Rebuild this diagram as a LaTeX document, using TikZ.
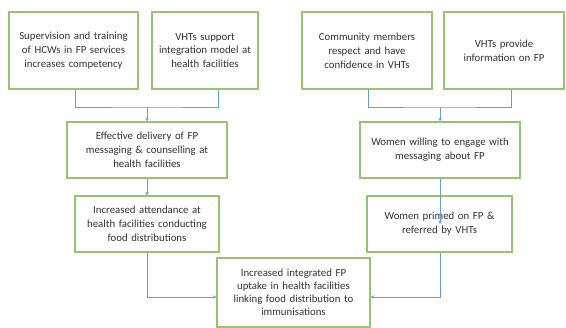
\documentclass[tikz,border=0pt]{standalone}
\usepackage{fontspec}
\setmainfont{Carlito}
\usetikzlibrary{arrows.meta}
\definecolor{boxgreen}{RGB}{150,196,112}
\definecolor{linkblue}{RGB}{100,160,215}
\begin{document}
\begin{tikzpicture}[x=1pt,y=-1pt,
  box/.style={draw=boxgreen,line width=1.3pt,fill=white,align=center,inner sep=1pt,
    font=\fontsize{10.8}{13.8}\selectfont,text=black!80},
  link/.style={draw=linkblue,line width=0.9pt},
  arr/.style={link,-{Stealth[length=3.5pt,width=3.5pt]}}]
\useasboundingbox (0,0) rectangle (566,328);
\node[box,minimum width=129pt,minimum height=77pt,text width=126pt] (b1) at (73.5,50.5) {Supervision and training\\of HCWs in FP services\\increases competency};
\node[box,minimum width=106pt,minimum height=77pt,text width=103pt] (b2) at (205,50.5) {VHTs support\\integration model at\\health facilities};
\node[box,minimum width=130pt,minimum height=77pt,text width=127pt] (b3) at (367,50.5) {Community members\\respect and have\\confidence in VHTs};
\node[box,minimum width=120pt,minimum height=77pt,text width=117pt] (b4) at (504,50.5) {VHTs provide\\information on FP};
\node[box,minimum width=160pt,minimum height=56pt,text width=157pt] (b5) at (147,150) {Effective delivery of FP\\messaging \& counselling at\\health facilities};
\node[box,minimum width=160pt,minimum height=56pt,text width=157pt] (b7) at (440,150) {Women willing to engage with\\messaging about FP};
\node[box,minimum width=144pt,minimum height=56pt,text width=141pt] (b6) at (147,224) {Increased attendance at\\health facilities conducting\\food distributions};
\node[box,minimum width=145pt,minimum height=56pt,text width=142pt] (b8) at (439.5,224) {Women primed on FP \&\\referred by VHTs};
\node[box,minimum width=153pt,minimum height=69pt,text width=150pt,font=\fontsize{10.8}{13}\selectfont] (b9) at (293.5,292.5) {Increased integrated FP\\uptake in health facilities\\linking food distribution to\\immunisations};
\coordinate (m1) at (147,107);
\coordinate (m2) at (440,107);
\draw[link] (b1.south -| 75,0) |- (m1) -| (b2.south -| 218,0);
\draw[arr] (m1) -- (b5.north);
\draw[link] (b3.south -| 368,0) |- (m2) -| (b4.south -| 511,0);
\draw[arr] (m2) -- (b7.north);
\draw[arr] (b5) -- (b6);
\draw[arr] (b7) -- (b8 -| b7);
\draw[arr] (b6.south) |- (b9.west |- 0,297);
\draw[arr] (b8.south -| b7) |- (b9.east |- 0,297);
\end{tikzpicture}
\end{document}
